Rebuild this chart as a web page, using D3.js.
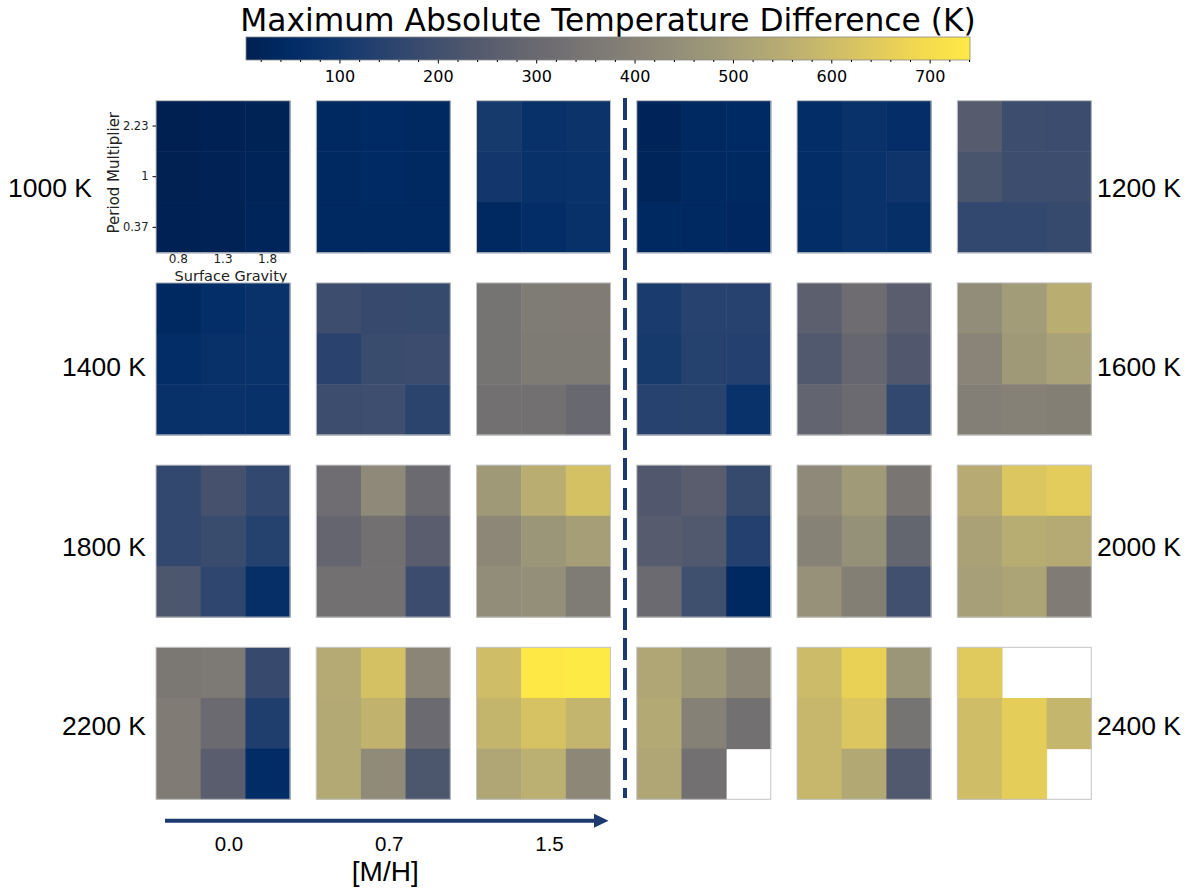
<!DOCTYPE html>
<html>
<head>
<meta charset="utf-8">
<script src="https://cdn.jsdelivr.net/npm/d3@7"></script>
<style>
  body { margin: 0; background: #fff; }
  svg { display: block; }
</style>
</head>
<body>
<svg id="chart"></svg>
<script>
const W = 1190, H = 888;

// axis categories
const metallicity = ["0.0", "0.7", "1.5"];
const gravity = ["0.8", "1.3", "1.8"];
const period = ["2.23", "1", "0.37"];          // top to bottom
const tempsLeft = [1000, 1400, 1800, 2200];
const tempsRight = [1200, 1600, 2000, 2400];
const cbTicks = [100, 200, 300, 400, 500, 600, 700];

// max abs temperature difference (K); per [M/H] panel, rows = period (2.23, 1, 0.37), cols = gravity
const diff1000 = [
  [[5, 9, 14], [7, 10, 18], [9, 10, 24]],
  [[38, 44, 42], [40, 44, 41], [40, 42, 42]],
  [[110, 72, 85], [100, 74, 76], [40, 56, 74]]
];
const diff1200 = [
  [[22, 42, 44], [24, 42, 42], [40, 40, 34]],
  [[56, 76, 64], [58, 76, 88], [58, 76, 68]],
  [[248, 189, 186], [218, 189, 190], [167, 169, 175]]
];
const diff1400 = [
  [[42, 62, 76], [56, 74, 78], [74, 76, 74]],
  [[190, 178, 176], [150, 183, 186], [188, 192, 152]],
  [[343, 373, 376], [343, 370, 370], [330, 327, 298]]
];
const diff1600 = [
  [[115, 145, 145], [110, 140, 136], [145, 147, 76]],
  [[263, 314, 255], [237, 288, 235], [281, 303, 168]],
  [[440, 491, 553], [406, 483, 509], [388, 395, 385]]
];
const diff1800 = [
  [[167, 211, 169], [169, 183, 140], [225, 160, 66]],
  [[318, 425, 306], [285, 327, 255], [327, 327, 186]],
  [[483, 553, 616], [417, 472, 498], [440, 447, 373]]
];
const diff2000 = [
  [[235, 255, 175], [248, 237, 137], [303, 196, 38]],
  [[425, 487, 347], [399, 450, 283], [452, 385, 200]],
  [[546, 634, 650], [513, 548, 542], [502, 517, 375]]
];
const diff2200 = [
  [[358, 364, 178], [375, 306, 127], [375, 255, 54]],
  [[542, 616, 410], [538, 572, 306], [538, 432, 225]],
  [[605, 735, 741], [579, 620, 576], [528, 557, 417]]
];
const diff2400 = [
  [[529, 476, 417], [538, 393, 327], [528, 327, null]],
  [[597, 667, 470], [583, 632, 343], [583, 533, 237]],
  [[645, null, null], [605, 656, 580], [605, 656, null]]
];
const diffByTemp = {1000: diff1000, 1200: diff1200, 1400: diff1400, 1600: diff1600,
                    1800: diff1800, 2000: diff2000, 2200: diff2200, 2400: diff2400};

const svg = d3.select("#chart").attr("width", W).attr("height", H);

const color = d3.scaleSequential(d3.interpolateCividis).domain([5, 741]);

// ---- colorbar ----
const cb = { x0: 246, x1: 970, y: 37, h: 23 };
const cbScale = d3.scaleLinear().domain(color.domain()).range([cb.x0, cb.x1]);

svg.append("text")
    .attr("x", 608)
    .attr("y", 31)
    .attr("text-anchor", "middle")
    .style("font-family", "DejaVu Sans")
    .style("font-size", "31.3px")
    .text("Maximum Absolute Temperature Difference (K)");

const grad = svg.append("defs").append("linearGradient").attr("id", "cbgrad");
grad.selectAll("stop")
    .data(d3.range(0, 1.0001, 0.02))
    .enter().append("stop")
    .attr("offset", d => d)
    .attr("stop-color", d => color(color.domain()[0] + d * (color.domain()[1] - color.domain()[0])));

svg.append("rect")
    .attr("x", cb.x0).attr("y", cb.y)
    .attr("width", cb.x1 - cb.x0).attr("height", cb.h)
    .attr("fill", "url(#cbgrad)")
    .attr("stroke", "#8a8a8a").attr("stroke-width", 0.8);

const cbAxis = svg.append("g")
    .attr("transform", `translate(0,${cb.y + cb.h})`)
    .call(d3.axisBottom(cbScale).tickValues(cbTicks).tickSize(3.5).tickPadding(7).tickFormat(d3.format("d")));
cbAxis.select(".domain").remove();
cbAxis.selectAll("text").style("font-family", "DejaVu Sans").style("font-size", "16px").attr("fill", "#000");

const cbMinor = svg.append("g")
    .attr("transform", `translate(0,${cb.y + cb.h})`)
    .call(d3.axisBottom(cbScale).tickValues(d3.range(20, 741, 20).filter(v => v % 100 !== 0)).tickSize(2).tickFormat(""));
cbMinor.select(".domain").remove();

// ---- panels ----
const panelW = 134, panelH = 152;
const panelX = d3.scaleLinear().domain([0, 5]).range([156, 957.3]);
const panelY = d3.scaleLinear().domain([0, 3]).range([100.7, 647.3]);
const cellX = d3.scaleBand().domain(gravity).range([0, panelW]);
const cellY = d3.scaleBand().domain(period).range([0, panelH]);
const labelY = d3.scaleLinear().domain([0, 3]).range([188, 726]);

const allTemps = tempsLeft.map((t, i) => ({ t, row: i, side: 0 }))
    .concat(tempsRight.map((t, i) => ({ t, row: i, side: 1 })));

allTemps.forEach(p => {
  metallicity.forEach((m, mi) => {
    const col = p.side * 3 + mi;
    const g = svg.append("g")
        .attr("transform", `translate(${panelX(col)},${panelY(p.row)})`);
    const cells = [];
    diffByTemp[p.t][mi].forEach((rowVals, ri) => {
      rowVals.forEach((v, ci) => cells.push({ per: period[ri], grav: gravity[ci], v }));
    });
    g.selectAll("rect.cell")
        .data(cells.filter(d => d.v !== null))
        .enter().append("rect")
        .attr("class", "cell")
        .attr("x", d => cellX(d.grav))
        .attr("y", d => cellY(d.per))
        .attr("width", cellX.bandwidth() + 0.5)
        .attr("height", cellY.bandwidth() + 0.5)
        .attr("fill", d => color(d.v));
    g.append("rect")
        .attr("width", panelW).attr("height", panelH)
        .attr("fill", "none")
        .attr("stroke", "#c4c4c4").attr("stroke-width", 1);

    // axes only on the first panel
    if (p.t === 1000 && mi === 0) {
      const ya = g.append("g")
          .call(d3.axisLeft(cellY).tickSize(3.5).tickPadding(4));
      ya.select(".domain").remove();
      ya.selectAll("text").style("font-family", "DejaVu Sans").style("font-size", "11.5px").attr("fill", "#222");
      const xa = g.append("g")
          .attr("transform", `translate(0,${panelH})`)
          .call(d3.axisBottom(cellX).tickSize(0).tickPadding(2));
      xa.select(".domain").remove();
      xa.selectAll("text").style("font-family", "DejaVu Sans").style("font-size", "12px").attr("fill", "#222");
      g.append("text")
          .attr("x", panelW / 2 + 8)
          .attr("y", panelH + 28)
          .attr("text-anchor", "middle")
          .style("font-family", "DejaVu Sans")
          .style("font-size", "14.5px")
          .attr("fill", "#222")
          .text("Surface Gravity");
      g.append("text")
          .attr("transform", `translate(-37,${panelH / 2 - 4}) rotate(-90)`)
          .attr("text-anchor", "middle")
          .style("font-family", "DejaVu Sans")
          .style("font-size", "15px")
          .attr("fill", "#222")
          .text("Period Multiplier");
    }
  });

  // temperature label
  const lx = p.side === 0 ? (p.row === 0 ? 92 : 146) : 1097;
  svg.append("text")
      .attr("x", lx)
      .attr("y", labelY(p.row))
      .attr("dominant-baseline", "central")
      .attr("text-anchor", p.side === 0 ? "end" : "start")
      .style("font-family", "Liberation Sans, Arial, sans-serif")
      .style("font-size", "26.5px")
      .attr("fill", "#000")
      .text(`${p.t} K`);
});

// ---- divider between the two halves ----
const navy = "#1c3a6e";
svg.append("line")
    .attr("x1", 625).attr("x2", 625)
    .attr("y1", 98).attr("y2", 798)
    .attr("stroke", navy).attr("stroke-width", 4)
    .attr("stroke-dasharray", "22,8");

// ---- [M/H] arrow ----
svg.append("line")
    .attr("x1", 165).attr("x2", 596)
    .attr("y1", 820.7).attr("y2", 820.7)
    .attr("stroke", navy).attr("stroke-width", 4);
svg.append("path")
    .attr("d", "M594,813.7 L608.5,820.7 L594,827.7 Z")
    .attr("fill", navy);

svg.selectAll("text.mh")
    .data(metallicity)
    .enter().append("text")
    .attr("class", "mh")
    .attr("x", (d, i) => panelX(i) + panelW / 2 + 6)
    .attr("y", 843)
    .attr("dominant-baseline", "central")
    .attr("text-anchor", "middle")
    .style("font-family", "Liberation Sans, Arial, sans-serif")
    .style("font-size", "20.5px")
    .text(d => d);

svg.append("text")
    .attr("x", panelX(1) + panelW / 2 + 2)
    .attr("y", 871)
    .attr("dominant-baseline", "central")
    .attr("text-anchor", "middle")
    .style("font-family", "Liberation Sans, Arial, sans-serif")
    .style("font-size", "28px")
    .text("[M/H]");
</script>
</body>
</html>
